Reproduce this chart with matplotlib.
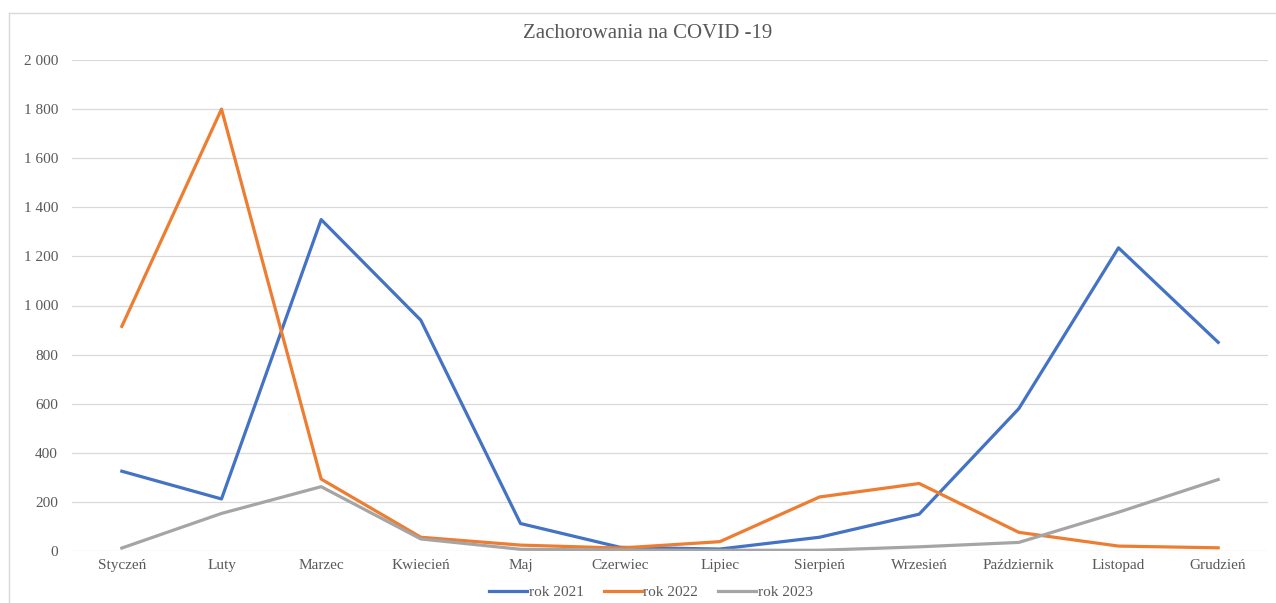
import matplotlib
matplotlib.use('Agg')
import matplotlib.pyplot as plt
from matplotlib.ticker import FuncFormatter
from matplotlib.lines import Line2D

miesiace = ["Styczeń", "Luty", "Marzec", "Kwiecień", "Maj", "Czerwiec", "Lipiec",
            "Sierpień", "Wrzesień", "Październik", "Listopad", "Grudzień"]
rok_2021 = [325, 212, 1350, 940, 112, 15, 8, 56, 150, 580, 1235, 850]
rok_2022 = [915, 1800, 293, 56, 24, 12, 38, 220, 275, 76, 20, 13]
rok_2023 = [12, 153, 262, 49, 7, 4, 3, 3, 17, 35, 158, 291]

plt.rcParams['font.family'] = ['Liberation Serif', 'DejaVu Serif']

fig = plt.figure(figsize=(12.76, 6.03), dpi=100)
ax = fig.add_axes([72/1276, 1 - 551/603, 1196/1276, 491/603])

x = range(len(miesiace))
ax.plot(x, rok_2021, color="#4472C4", lw=2.3, label="rok 2021", solid_joinstyle='round')
ax.plot(x, rok_2022, color="#ED7D31", lw=2.3, label="rok 2022", solid_joinstyle='round')
ax.plot(x, rok_2023, color="#A5A5A5", lw=2.3, label="rok 2023", solid_joinstyle='round')

ax.set_xlim(-0.5, 11.5)
ax.set_ylim(0, 2000)
ax.set_yticks(range(0, 2001, 200))
ax.yaxis.set_major_formatter(FuncFormatter(lambda v, p: f"{int(v):,}".replace(",", " ")))
ax.set_xticks(list(x))
ax.set_xticklabels(miesiace)
ax.grid(axis='y', color="#D9D9D9", lw=0.9)
ax.set_axisbelow(True)
for s in ax.spines.values():
    s.set_visible(False)
ax.tick_params(length=0, colors="#595959", labelsize=11)
ax.tick_params(axis='y', pad=10)
ax.tick_params(axis='x', pad=6)

fig.text(648/1276, 1 - 33/603, "Zachorowania na COVID -19", ha='center', va='center',
         fontsize=15, color="#595959")

fig.legend(loc='center', bbox_to_anchor=(651/1276, 1 - 592/603), ncol=3, frameon=False,
           fontsize=11, labelcolor="#595959", handlelength=2.5, handletextpad=0.1,
           columnspacing=1.3)

# ramka wykresu
fig.add_artist(Line2D([8.5/1276, 1], [1 - 12.5/603] * 2, color="#D9D9D9", lw=1))
fig.add_artist(Line2D([8.5/1276] * 2, [0, 1 - 12.5/603], color="#D9D9D9", lw=1))

fig.savefig("out.png", dpi=100)
